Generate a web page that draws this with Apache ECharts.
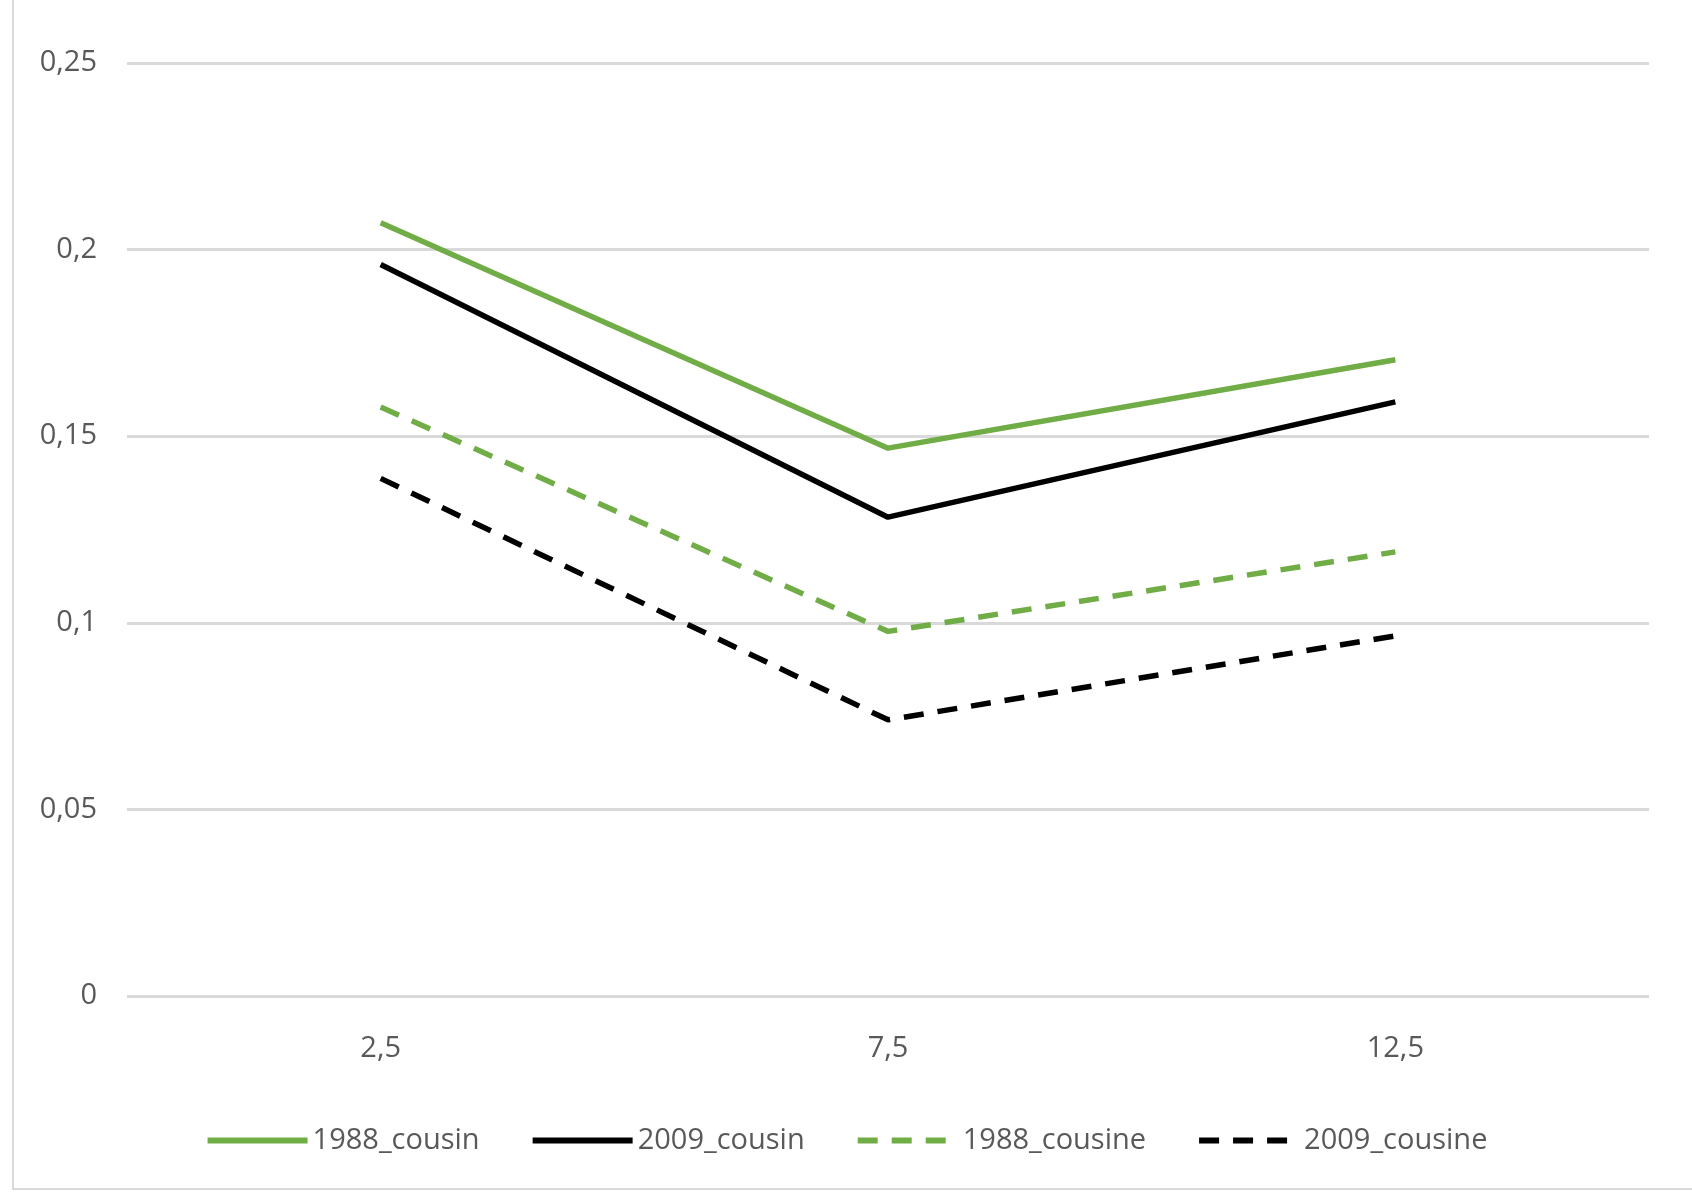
<!DOCTYPE html>
<html>
<head>
<meta charset="utf-8">
<script src="https://cdn.jsdelivr.net/npm/echarts@6/dist/echarts.min.js"></script>
<style>html,body{margin:0;padding:0;background:#fff}#main{width:1692px;height:1202px}</style>
</head>
<body>
<div id="main"></div>
<script>
var categories = ['2,5', '7,5', '12,5'];
var yTicks = [0, 0.05, 0.1, 0.15, 0.2, 0.25];
var s1988Cousin = [0.2072, 0.1468, 0.1705];
var s2009Cousin = [0.196, 0.1283, 0.1592];
var s1988Cousine = [0.1578, 0.0977, 0.119];
var s2009Cousine = [0.1387, 0.074, 0.0965];

var green = '#70ad47', black = '#000000';
var font = 'Open Sans';
function mk(name, data, color, dashed) {
	return {
		name: name, type: 'line', data: data, symbol: 'none',
		lineStyle: { color: color, width: 5.5, type: dashed ? [20, 14] : 'solid' },
		itemStyle: { color: color }
	};
}
var myChart = echarts.init(document.getElementById('main'));
myChart.setOption({
	animation: false,
	textStyle: { fontFamily: font },
	graphic: [{ type: 'rect', shape: { x: 13, y: -5, width: 1700, height: 1194 },
		style: { fill: 'none', stroke: '#d9d9d9', lineWidth: 2 } }],
	grid: { left: 127, right: 43, top: 63, bottom: 206 },
	xAxis: {
		type: 'category', data: categories, boundaryGap: true,
		axisLine: { show: false }, axisTick: { show: false },
		axisLabel: { color: '#595959', fontSize: 29, fontFamily: font, margin: 38 }
	},
	yAxis: {
		type: 'value', min: 0, max: 0.25, interval: 0.05,
		axisLine: { show: false }, axisTick: { show: false },
		splitLine: { lineStyle: { color: '#d9d9d9', width: 3 } },
		axisLabel: { color: '#595959', fontSize: 29, fontFamily: font, margin: 30,
			formatter: function (v) {
				var t = yTicks.filter(function (x) { return Math.abs(x - v) < 1e-9; });
				return String(t.length ? t[0] : v).replace('.', ',');
			} }
	},
	legend: {
		bottom: 42, left: 'center', itemWidth: 100, itemHeight: 14, itemGap: 50,
		itemStyle: { opacity: 0 },
		lineStyle: { width: 6 },
		textStyle: { color: '#595959', fontSize: 29, fontFamily: font }
	},
	series: [
		mk('1988_cousin', s1988Cousin, green, false),
		mk('2009_cousin', s2009Cousin, black, false),
		mk('1988_cousine', s1988Cousine, green, true),
		mk('2009_cousine', s2009Cousine, black, true)
	]
});
</script>
</body>
</html>
